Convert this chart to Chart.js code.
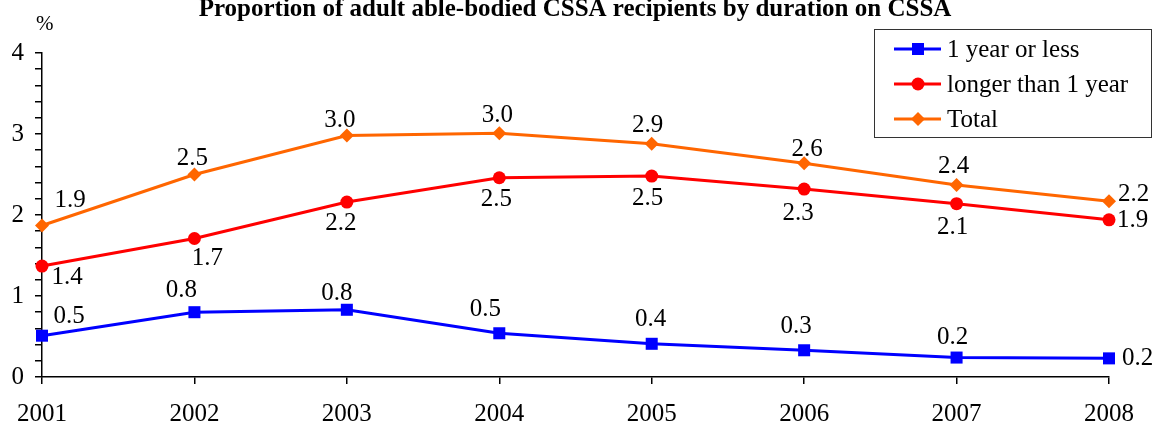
<!DOCTYPE html>
<html>
<head>
<meta charset="utf-8">
<script src="https://cdn.jsdelivr.net/npm/chart.js@4/dist/chart.umd.min.js"></script>
<style>
  html, body { margin: 0; padding: 0; background: #fff; }
  canvas { display: block; }
</style>
</head>
<body>
<canvas id="myChart" width="1156" height="425"></canvas>
<script>
// data
const years = ['2001','2002','2003','2004','2005','2006','2007','2008'];
const shortTerm = [0.51, 0.80, 0.83, 0.54, 0.41, 0.33, 0.24, 0.23];
const longTerm  = [1.37, 1.71, 2.16, 2.46, 2.48, 2.32, 2.14, 1.94];
const total     = [1.87, 2.50, 2.98, 3.01, 2.88, 2.64, 2.37, 2.17];
const seriesNames = ['1 year or less', 'longer than 1 year', 'Total'];
const yTicks = [0, 1, 2, 3, 4];

const FONT = '"Liberation Serif", "Times New Roman", serif';

// where each value label sits relative to its point: [dx, dy(baseline), align]
const labelOffsets = [
  [[27,-13,'center'],[-13,-15,'center'],[-10,-10,'center'],[-14,-17,'center'],[-1,-18,'center'],[-8,-17,'center'],[-4,-14,'center'],[13,7,'left']],
  [[25,18,'center'],[13,27,'center'],[-6,28,'center'],[-3,28,'center'],[-4,29,'center'],[-6,31,'center'],[-4,30,'center'],[8,7,'left']],
  [[28,-19,'center'],[-2,-10,'center'],[-7,-9,'center'],[-2,-11,'center'],[-4,-12,'center'],[3,-7,'center'],[-3,-12,'center'],[9,0,'left']]
];

function drawMarker(ctx, style, x, y, color){
    ctx.save();
    ctx.fillStyle = color;
    ctx.beginPath();
    if(style === 'rect'){
        ctx.rect(x-6, y-6, 12, 12);
    } else if(style === 'circle'){
        ctx.arc(x, y, 6.5, 0, Math.PI*2);
    } else {
        ctx.moveTo(x, y-7); ctx.lineTo(x+7, y); ctx.lineTo(x, y+7); ctx.lineTo(x-7, y); ctx.closePath();
    }
    ctx.fill();
    ctx.restore();
}

const extras = {
    id: 'extras',
    afterDatasetsDraw(chart){
        const ctx = chart.ctx;
        ctx.save();
        ctx.fillStyle = '#000';
        ctx.font = '25px ' + FONT;
        ctx.textBaseline = 'alphabetic';
        chart.data.datasets.forEach((ds, di) => {
            const meta = chart.getDatasetMeta(di);
            meta.data.forEach((pt, i) => {
                const off = labelOffsets[di][i];
                ctx.textAlign = off[2];
                ctx.fillText(ds.data[i].toFixed(1), pt.x + off[0], pt.y + off[1]);
            });
        });

        // title and unit
        ctx.textAlign = 'center';
        ctx.font = 'bold 25px ' + FONT;
        ctx.fillText('Proportion of adult able-bodied CSSA recipients by duration on CSSA', 575, 16);
        ctx.textAlign = 'left';
        ctx.font = '21px ' + FONT;
        ctx.fillText('%', 36, 30);

        // legend box
        ctx.fillStyle = '#fff';
        ctx.fillRect(874, 29, 277, 108);
        ctx.strokeStyle = '#333';
        ctx.lineWidth = 1;
        ctx.strokeRect(874.5, 29.5, 277, 108);
        chart.data.datasets.forEach((ds, di) => {
            const y = 49 + di*35;
            ctx.strokeStyle = ds.borderColor;
            ctx.lineWidth = 3;
            ctx.beginPath(); ctx.moveTo(894, y); ctx.lineTo(941, y); ctx.stroke();
            drawMarker(ctx, ds.pointStyle, 918, y, ds.borderColor);
            ctx.fillStyle = '#000';
            ctx.font = '25px ' + FONT;
            ctx.fillText(ds.label, 947, y + 8);
        });
        ctx.restore();
    }
};

const ctx = document.getElementById('myChart').getContext('2d');
const myChart = new Chart(ctx, {
    type: 'line',
    data: {
        labels: years,
        datasets: [
            { label: seriesNames[0], data: shortTerm, borderColor: '#0000FF', backgroundColor: '#0000FF',
              pointStyle: 'rect', pointRadius: 8.5, borderWidth: 3, pointBorderWidth: 0, clip: false },
            { label: seriesNames[1], data: longTerm, borderColor: '#FF0000', backgroundColor: '#FF0000',
              pointStyle: 'circle', pointRadius: 6.5, borderWidth: 3, pointBorderWidth: 0, clip: false },
            { label: seriesNames[2], data: total, borderColor: '#FF6600', backgroundColor: '#FF6600',
              pointStyle: 'rectRot', pointRadius: 7, borderWidth: 3, pointBorderWidth: 0, clip: false }
        ]
    },
    options: {
        responsive: false,
        animation: false,
        layout: { padding: { left: 0, top: 53, right: 47, bottom: 0 } },
        plugins: { legend: { display: false }, title: { display: false }, tooltip: { enabled: false } },
        scales: {
            x: {
                offset: false,
                grid: { drawOnChartArea: false, drawTicks: true, tickLength: 7, color: '#000', lineWidth: 1.5 },
                border: { color: '#000', width: 1.5 },
                ticks: { color: '#000', font: { family: FONT, size: 25 }, padding: 15, maxRotation: 0, autoSkip: false },
                afterFit: s => { s.height = 48; }
            },
            y: {
                min: 0, max: 4,
                grid: { drawOnChartArea: false, drawTicks: true, tickLength: 7, color: '#000', lineWidth: 1.5 },
                border: { color: '#000', width: 1.5 },
                ticks: {
                    stepSize: 0.2, autoSkip: false, color: '#000', padding: 11,
                    font: { family: FONT, size: 25 },
                    callback: v => {
                        const r = Math.round(v);
                        return (Math.abs(v - r) < 1e-6 && yTicks.includes(r)) ? String(r) : '';
                    }
                },
                afterFit: s => { s.width = 42; }
            }
        }
    },
    plugins: [extras]
});
</script>
</body>
</html>
